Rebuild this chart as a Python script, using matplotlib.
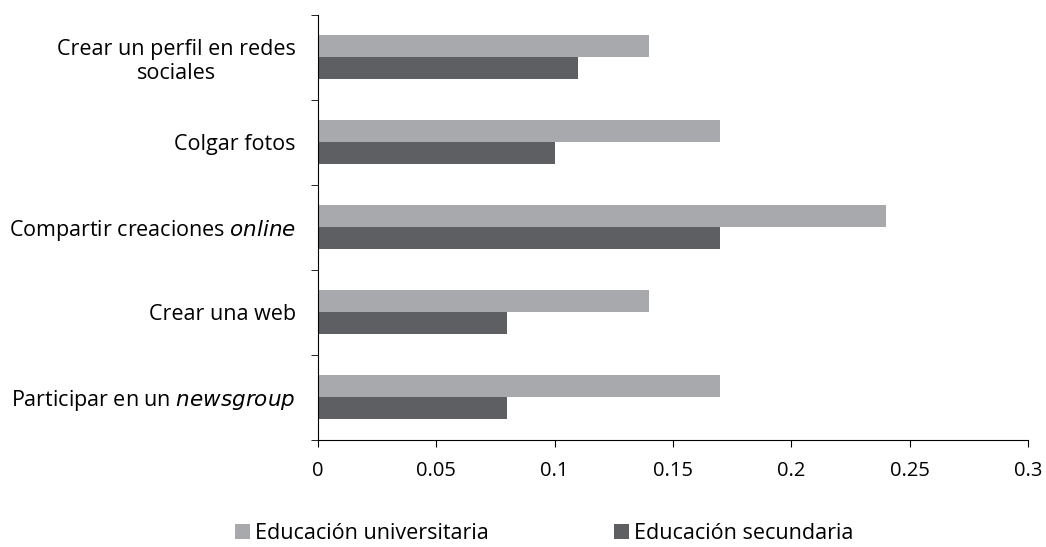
import matplotlib.pyplot as plt
import numpy as np

plt.rcParams['font.family'] = ['Open Sans', 'DejaVu Sans']

# categories, top to bottom as shown in the chart
categorias = [
    "Crear un perfil en redes\nsociales",
    "Colgar fotos",
    "Compartir creaciones $\\it{online}$",
    "Crear una web",
    "Participar en un $\\it{newsgroup}$",
]
universitaria = [0.14, 0.17, 0.24, 0.14, 0.17]
secundaria = [0.11, 0.10, 0.17, 0.08, 0.08]

color_univ = "#a7a9ac"
color_sec = "#5e5f63"

fig = plt.figure(figsize=(10.46, 5.47), dpi=100)
ax = fig.add_axes([0.304, 0.196, 0.679, 0.777])

n = len(categorias)
y = np.arange(n)[::-1]  # first category on top
h = 0.26

ax.barh(y + h / 2, universitaria, height=h, color=color_univ, label="Educación universitaria")
ax.barh(y - h / 2, secundaria, height=h, color=color_sec, label="Educación secundaria")

ax.set_xlim(0, 0.3)
ax.set_ylim(-0.5, n - 0.5)
ax.set_xticks([0, 0.05, 0.1, 0.15, 0.2, 0.25, 0.3])
ax.set_xticklabels(["0", "0.05", "0.1", "0.15", "0.2", "0.25", "0.3"], fontsize=14.5)

# category labels at the centres, tick marks at the boundaries
ax.set_yticks(y)
ax.set_yticklabels(categorias, fontsize=15.5, ha="right", multialignment="center")
ax.tick_params(axis="y", length=0, pad=16)
ax.set_yticks(np.arange(n + 1) - 0.5, minor=True)
ax.tick_params(axis="y", which="minor", length=5, direction="out")
ax.tick_params(axis="x", length=5, direction="out", pad=10)

for s in ["top", "right"]:
    ax.spines[s].set_visible(False)
ax.spines["left"].set_color("black")
ax.spines["bottom"].set_color("black")

fig.legend(loc="lower center", bbox_to_anchor=(0.52, -0.03), ncol=2, frameon=False,
           fontsize=15.5, handlelength=0.7, handleheight=0.7, handletextpad=0.23,
           columnspacing=5.8)

fig.savefig("out.png", dpi=100)
